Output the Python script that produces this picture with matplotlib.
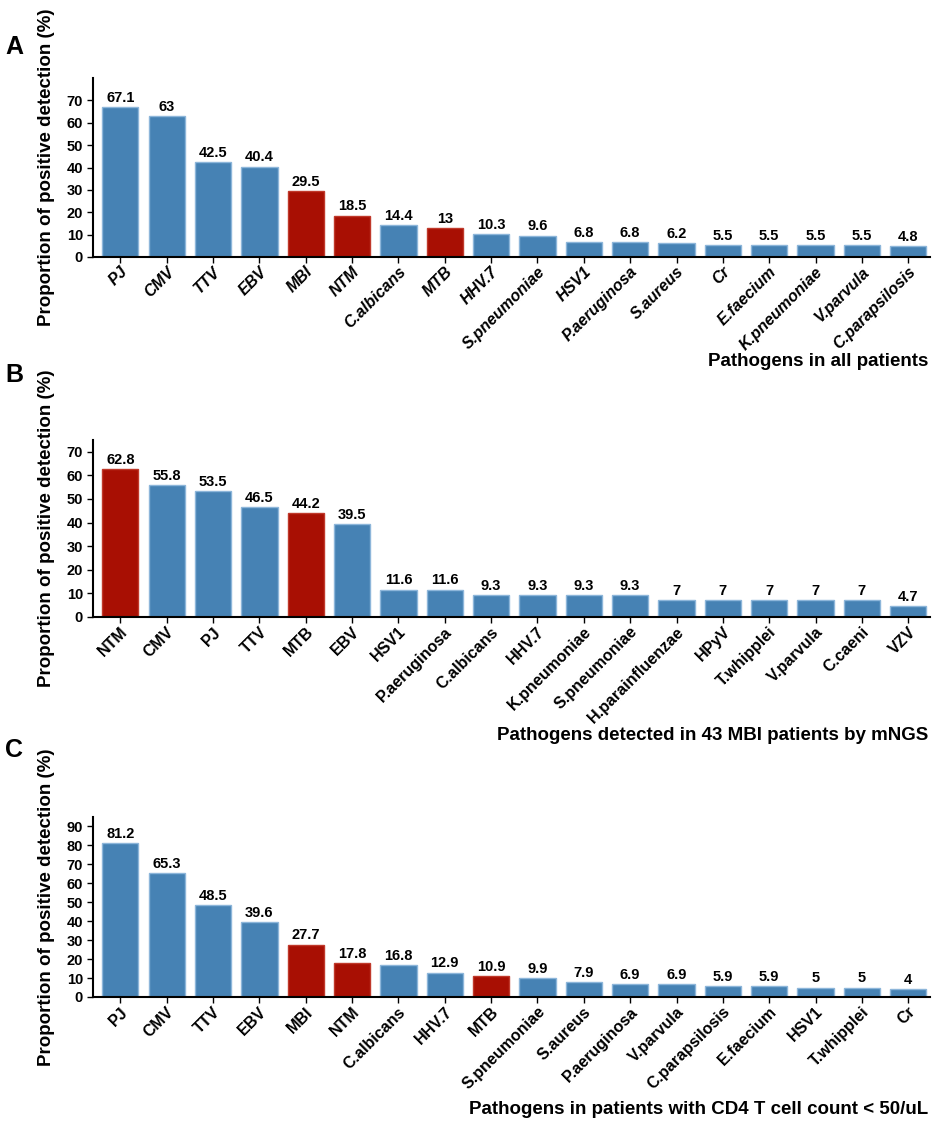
import matplotlib
matplotlib.use("Agg")
import matplotlib.pyplot as plt
import matplotlib.transforms as mtransforms

plt.rcParams['font.family'] = ['Liberation Sans', 'DejaVu Sans']

cats_a = ["PJ", "CMV", "TTV", "EBV", "MBI", "NTM", "C.albicans", "MTB", "HHV.7",
          "S.pneumoniae", "HSV1", "P.aeruginosa", "S.aureus", "Cr", "E.faecium",
          "K.pneumoniae", "V.parvula", "C.parapsilosis"]
vals_a = [67.1, 63, 42.5, 40.4, 29.5, 18.5, 14.4, 13, 10.3, 9.6, 6.8, 6.8, 6.2,
          5.5, 5.5, 5.5, 5.5, 4.8]

cats_b = ["NTM", "CMV", "PJ", "TTV", "MTB", "EBV", "HSV1", "P.aeruginosa",
          "C.albicans", "HHV.7", "K.pneumoniae", "S.pneumoniae", "H.parainfluenzae",
          "HPyV", "T.whipplei", "V.parvula", "C.caeni", "VZV"]
vals_b = [62.8, 55.8, 53.5, 46.5, 44.2, 39.5, 11.6, 11.6, 9.3, 9.3, 9.3, 9.3,
          7, 7, 7, 7, 7, 4.7]

cats_c = ["PJ", "CMV", "TTV", "EBV", "MBI", "NTM", "C.albicans", "HHV.7", "MTB",
          "S.pneumoniae", "S.aureus", "P.aeruginosa", "V.parvula", "C.parapsilosis",
          "E.faecium", "HSV1", "T.whipplei", "Cr"]
vals_c = [81.2, 65.3, 48.5, 39.6, 27.7, 17.8, 16.8, 12.9, 10.9, 9.9, 7.9, 6.9,
          6.9, 5.9, 5.9, 5, 5, 4]

highlight = {"MBI", "NTM", "MTB"}
blue = "#4682B4"
red = "#A80F03"

titles = ["Pathogens in all patients",
          "Pathogens detected in 43 MBI patients by mNGS",
          "Pathogens in patients with CD4 T cell count < 50/uL"]
letters = ["A", "B", "C"]
yticks_list = [list(range(0, 71, 10)), list(range(0, 71, 10)), list(range(0, 91, 10))]
ylims = [80, 75, 95]

W, H = 935, 1127
fig = plt.figure(figsize=(W / 100, H / 100), dpi=100)

# pixel geometry: (top_px, bottom_px)
geo = [(78, 257), (440, 617), (817, 997)]
left_px, right_px = 92.6, 930
xtitle_y = [361, 735, 1110]
letter_y = [47, 375, 750]

panels = [(cats_a, vals_a, True), (cats_b, vals_b, False), (cats_c, vals_c, False)]
shift = mtransforms.ScaledTranslation(0.05, 0.0, fig.dpi_scale_trans)

for i, (cats, vals, ital) in enumerate(panels):
    top, bot = geo[i]
    ax = fig.add_axes([left_px / W, 1 - bot / H, (right_px - left_px) / W, (bot - top) / H])
    x = list(range(len(cats)))
    colors = [red if c in highlight else blue for c in cats]
    edges = ["#C0392B" if c in highlight else "#8DB6DA" for c in cats]
    ax.bar(x, vals, width=0.78, color=colors, edgecolor=edges, linewidth=1.0)
    for xi, v in zip(x, vals):
        ax.text(xi, v + ylims[i] * 0.012, f"{v:g}", ha="center", va="bottom",
                fontsize=10.5, fontweight="bold")
    ax.set_xlim(-0.6, len(cats) - 0.53)
    ax.set_ylim(0, ylims[i])
    ax.set_yticks(yticks_list[i])
    ax.set_yticklabels([str(t) for t in yticks_list[i]], fontsize=10.5, fontweight="bold")
    ax.set_xticks(x)
    ax.set_xticklabels(cats, rotation=45, ha="right", va="center", rotation_mode="anchor",
                       fontsize=11.5, fontweight="bold",
                       fontstyle="italic" if ital else "normal")
    ax.tick_params(axis="both", direction="out", length=4, width=1, pad=3, colors="black")
    ax.tick_params(axis="x", pad=5)
    for lab in ax.get_xticklabels():
        lab.set_transform(lab.get_transform() + shift)
    for s in ["top", "right"]:
        ax.spines[s].set_visible(False)
    for s in ["left", "bottom"]:
        ax.spines[s].set_linewidth(1.5)
    fig.text(928 / W, 1 - xtitle_y[i] / H, titles[i], ha="right", va="center",
             fontsize=13.5, fontweight="bold")
    fig.text(5 / W, 1 - letter_y[i] / H, letters[i], ha="left", va="center",
             fontsize=18, fontweight="bold")
    fig.text(47 / W, 1 - (top + bot) / 2 / H, "Proportion of positive detection (%)",
             rotation=90, ha="center", va="center", fontsize=13.5, fontweight="bold")

fig.savefig("out.png", dpi=100)
